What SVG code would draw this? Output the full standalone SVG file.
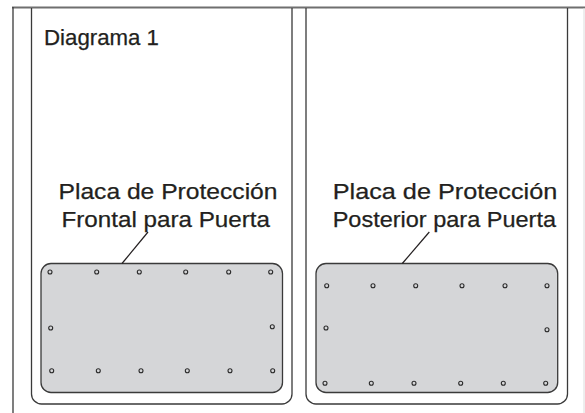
<svg xmlns="http://www.w3.org/2000/svg" width="585" height="413" viewBox="0 0 585 413">
<style>
.frame{fill:none;stroke:#3a3a3a;stroke-width:1.3}
.rule{fill:none;stroke:#6f6f6f;stroke-width:2}
.plate{fill:#d5d6d8;stroke:#3a3a3a;stroke-width:1.3}
.hole{fill:#d5d6d8;stroke:#2a2a2a;stroke-width:1.1}
.lbl{font-family:"Liberation Sans",Arial,sans-serif;font-size:21.5px;fill:#231f20;stroke:#231f20;stroke-width:0.25}
.lead{stroke:#231f20;stroke-width:1.2;fill:none}
</style>
<rect width="585" height="413" fill="#fff"/>
<g id="frame">
<line class="rule" x1="12" y1="7.5" x2="585" y2="7.5"/>
<line class="frame" x1="13" y1="7" x2="13" y2="413"/>
<line x1="584" y1="8" x2="584" y2="413" stroke="#dcdcdc" stroke-width="1"/>
<text class="lbl" x="44" y="45" textLength="115" lengthAdjust="spacingAndGlyphs">Diagrama 1</text>
</g>
<g id="panel-front">
<path class="frame" d="M31.5 8 V394 a10 10 0 0 0 10 10 H282 a10 10 0 0 0 10 -10 V8"/>
<text class="lbl" x="58.5" y="198.5" textLength="219" lengthAdjust="spacingAndGlyphs">Placa de Protección</text>
<text class="lbl" x="61.5" y="226.5" textLength="208.5" lengthAdjust="spacingAndGlyphs">Frontal para Puerta</text>
</g>
<g id="plate-front">
<rect class="plate" x="41" y="263.5" width="241.5" height="129" rx="10" ry="10"/>
<g>
<circle class="hole" cx="50" cy="272" r="2"/>
<circle class="hole" cx="96.7" cy="272" r="2"/>
<circle class="hole" cx="139.3" cy="272" r="2"/>
<circle class="hole" cx="185.7" cy="272" r="2"/>
<circle class="hole" cx="228.7" cy="272" r="2"/>
<circle class="hole" cx="270.7" cy="272" r="2"/>
<circle class="hole" cx="50.7" cy="328" r="2"/>
<circle class="hole" cx="272.3" cy="326.7" r="2"/>
<circle class="hole" cx="51.7" cy="370.7" r="2"/>
<circle class="hole" cx="98.3" cy="370.7" r="2"/>
<circle class="hole" cx="141" cy="370.7" r="2"/>
<circle class="hole" cx="187.3" cy="370.7" r="2"/>
<circle class="hole" cx="230" cy="370.7" r="2"/>
<circle class="hole" cx="272.7" cy="370.7" r="2"/>
</g>
</g>
<g id="panel-rear">
<path class="frame" d="M306 8 V394 a10 10 0 0 0 10 10 H557.5 a10 10 0 0 0 10 -10 V8"/>
<text class="lbl" x="332.7" y="198.5" textLength="224.6" lengthAdjust="spacingAndGlyphs">Placa de Protección</text>
<text class="lbl" x="332.7" y="226.5" textLength="223.3" lengthAdjust="spacingAndGlyphs">Posterior para Puerta</text>
</g>
<g id="plate-rear">
<rect class="plate" x="316" y="263.5" width="241.7" height="129" rx="10" ry="10"/>
<g>
<circle class="hole" cx="326.7" cy="285.7" r="2"/>
<circle class="hole" cx="373" cy="285.7" r="2"/>
<circle class="hole" cx="415.7" cy="285.7" r="2"/>
<circle class="hole" cx="462" cy="285.7" r="2"/>
<circle class="hole" cx="505" cy="285.7" r="2"/>
<circle class="hole" cx="547" cy="285.7" r="2"/>
<circle class="hole" cx="326" cy="328" r="2"/>
<circle class="hole" cx="547" cy="329.7" r="2"/>
<circle class="hole" cx="325" cy="383.3" r="2"/>
<circle class="hole" cx="371.3" cy="383.3" r="2"/>
<circle class="hole" cx="414" cy="383.3" r="2"/>
<circle class="hole" cx="460.7" cy="383.3" r="2"/>
<circle class="hole" cx="503.3" cy="383.3" r="2"/>
<circle class="hole" cx="545.7" cy="383.3" r="2"/>
</g>
</g>
<g id="connectors">
<line class="lead" x1="148" y1="232" x2="122" y2="263.5"/>
<line class="lead" x1="429.3" y1="232" x2="402.3" y2="263.5"/>
</g>
</svg>
